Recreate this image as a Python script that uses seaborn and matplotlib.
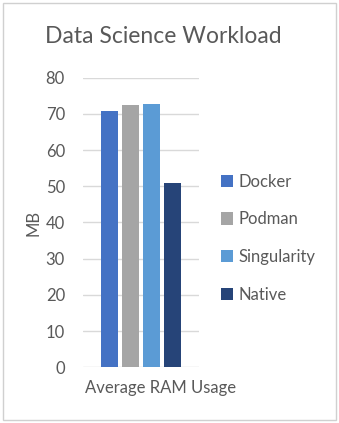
import matplotlib
matplotlib.use("Agg")
import matplotlib.pyplot as plt
import matplotlib.transforms as mtransforms
import seaborn as sns
import pandas as pd
from matplotlib.patches import Rectangle

categories = ["Average RAM Usage"]
systems = ["Docker", "Podman", "Singularity", "Native"]
values = [70.8, 72.5, 72.8, 50.8]
colors = ["#4472C4", "#A5A5A5", "#5B9BD5", "#264478"]
yticks = [0, 10, 20, 30, 40, 50, 60, 70, 80]

df = pd.DataFrame({"metric": categories * len(systems), "system": systems, "MB": values})

sns.set_theme(style="white")
plt.rcParams['font.family'] = ['Lato', 'DejaVu Sans']
text_color = "#595959"

fig = plt.figure(figsize=(3.39, 4.23), dpi=100)
ax = fig.add_axes([0.245, 0.1317, 0.342, 0.6846])
sns.barplot(data=df, x="metric", y="MB", hue="system", hue_order=systems,
            palette=colors, width=0.724, gap=0.21, ax=ax, legend=False,
            saturation=1, linewidth=0)

ax.set_ylim(0, 80)
ax.set_yticks(yticks)
ax.set_xlim(-0.5, 0.5)
ax.yaxis.grid(True, color="#D9D9D9", linewidth=1)
ax.set_axisbelow(True)
for s in ax.spines.values():
    s.set_visible(False)
ax.tick_params(axis="both", length=0, labelsize=12, colors=text_color)
ax.tick_params(axis="y", pad=13)
ax.tick_params(axis="x", pad=9)
ax.set_xlabel("")
ax.set_ylabel("MB", fontsize=12, color=text_color, labelpad=3)

offset = mtransforms.ScaledTranslation(20 / 100, 0, fig.dpi_scale_trans)
for lbl in ax.get_xticklabels():
    lbl.set_transform(lbl.get_transform() + offset)

fig.text(0.481, 0.913, "Data Science Workload", ha="center", va="center",
         fontsize=16.5, color=text_color)

handles = [Rectangle((0, 0), 1, 1, facecolor=c, edgecolor="none") for c in colors]
leg = fig.legend(handles, systems, loc="center left", bbox_to_anchor=(0.632, 0.437),
                 frameon=False, fontsize=12, handlelength=0.75, handleheight=0.75,
                 handletextpad=0.3, labelspacing=1.3, borderaxespad=0)
for t in leg.get_texts():
    t.set_color(text_color)

fig.patches.append(Rectangle((0.008, 0.006), 0.982, 0.988, transform=fig.transFigure,
                             fill=False, edgecolor="#D0D0D0", linewidth=1))

fig.savefig("out.png", dpi=100)
